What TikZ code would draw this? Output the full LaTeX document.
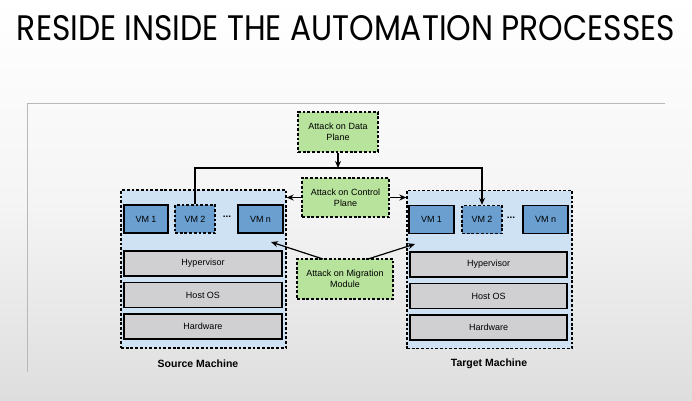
\documentclass[tikz,border=0pt]{standalone}
\usepackage{fontspec}
\setmainfont{Liberation Sans}
\newfontfamily\titlefont{Poppins}
\usetikzlibrary{arrows.meta}
\definecolor{machinefill}{HTML}{CFE2F3}
\definecolor{vmfill}{HTML}{6A9FD0}
\definecolor{layerfill}{HTML}{D0D0D2}
\definecolor{attackfill}{HTML}{B8E39C}
\begin{document}
\begin{tikzpicture}[x=1pt,y=-1pt,
  dashbox/.style={draw=black, line width=1.3pt, dash pattern=on 2.8pt off 1.9pt},
  machine/.style={dashbox, fill=machinefill, minimum width=165pt, minimum height=158pt, inner sep=0pt},
  vmbox/.style={draw=black, line width=1.3pt, fill=vmfill, minimum height=28pt, inner sep=0pt, font=\fontsize{9}{10}\selectfont},
  vmdash/.style={vmbox, dash pattern=on 2.8pt off 1.9pt},
  layer/.style={draw=black, line width=1.3pt, fill=layerfill, minimum height=25pt, inner sep=0pt, font=\fontsize{9}{10}\selectfont},
  attack/.style={dashbox, fill=attackfill, inner sep=0pt, align=center, font=\fontsize{9}{11}\selectfont},
  dots/.style={inner sep=0pt, font=\bfseries\fontsize{10}{10}\selectfont},
  conn/.style={line width=1.2pt, -{Stealth[length=7pt,width=6pt]}},
  caption/.style={font=\bfseries\fontsize{10.5}{12}\selectfont}
]
\useasboundingbox (0,0) rectangle (692,400);
% slide background
\shade[top color=white, bottom color=black!13, middle color=white!96!black] (0,0) rectangle (692,400);
\draw[black!28, line width=0.8pt] (27,372) -- (27,103) -- (665,103);

% heading
\node[anchor=base, inner sep=0pt] (title) at (346,40)
  {\resizebox{658pt}{25pt}{\titlefont RESIDE INSIDE THE AUTOMATION PROCESSES}};

% machines
\node[machine] (src) at (203.5,269) {};
\node[machine] (tgt) at (489.5,269.5) {};

% source machine contents
\node[vmbox, minimum width=44pt] (s1) at (146,219) {VM 1};
\node[vmdash, minimum width=40pt] (s2) at (195,219) {VM 2};
\node[dots] (sdots) at (227,217) {...};
\node[vmbox, minimum width=45pt] (sn) at (260.5,219) {VM n};
\node[layer, minimum width=158pt] (shyp) at (203,263.5) {Hypervisor};
\node[layer, minimum width=158pt] (sos) at (203,295) {Host OS};
\node[layer, minimum width=158pt] (shw) at (203,326.5) {Hardware};
\node[caption] (slabel) at (198,364) {Source Machine};

% target machine contents
\node[vmbox, minimum width=45pt] (t1) at (431.5,219.5) {VM 1};
\node[vmdash, minimum width=40pt] (t2) at (482,219.5) {VM 2};
\node[dots] (tdots) at (511,217.5) {...};
\node[vmbox, minimum width=45pt] (tn) at (545.5,219.5) {VM n};
\node[layer, minimum width=157pt] (thyp) at (488.5,264.5) {Hypervisor};
\node[layer, minimum width=157pt] (tos) at (488.5,296) {Host OS};
\node[layer, minimum width=157pt] (thw) at (488.5,327.5) {Hardware};
\node[caption] (tlabel) at (489,364) {Target Machine};

% attack points
\node[attack, minimum width=80pt, minimum height=40pt] (data) at (338,132) {Attack on Data\\Plane};
\node[attack, minimum width=87pt, minimum height=39pt] (ctrl) at (345.5,197.5) {Attack on Control\\Plane};
\node[attack, minimum width=96pt, minimum height=40pt] (mig) at (345,279) {Attack on Migration\\Module};

% data plane path between the two VM 2 instances
\coordinate (busL) at (s2.north |- 0,168);
\coordinate (busR) at (t2.north |- 0,168);
\coordinate (busM) at (data.south |- 0,168);
\draw[conn] (s2.north) -- (busL) -- (busR) -- (t2.north);
\draw[conn] (data.south) -- (busM);

% control plane
\draw[conn] (ctrl.west) -- (ctrl.west -| src.east);
\draw[conn] (ctrl.east) -- (ctrl.east -| tgt.west);

% migration module
\coordinate (migL) at (323,259);
\coordinate (migR) at (368,259);
\coordinate (srcHit) at (271,242);
\coordinate (tgtHit) at (415,244);
\draw[conn] (migL) -- (srcHit);
\draw[conn] (migR) -- (tgtHit);
\end{tikzpicture}
\end{document}
